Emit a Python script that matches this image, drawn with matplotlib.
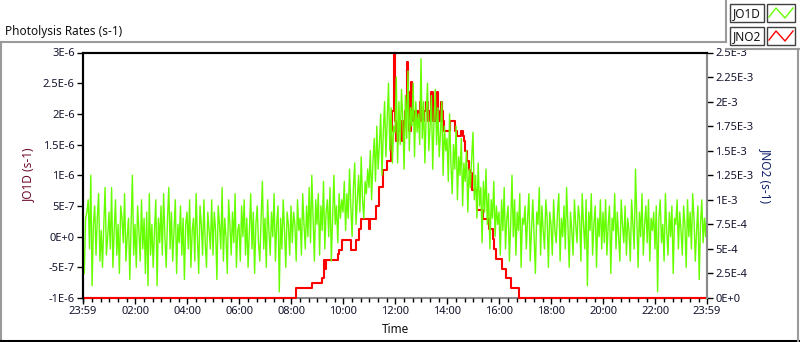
import numpy as np
import matplotlib
matplotlib.use("Agg")
import matplotlib.pyplot as plt
from matplotlib.lines import Line2D
from matplotlib.patches import Rectangle

plt.rcParams["font.family"] = ["Noto Sans", "DejaVu Sans"]

# sampling of both traces (minutes after 23:59)
SAMPLE_MIN = 3

# JO1D, units of 1e-7 s-1, one row per hour starting 23:59
jo1d = [
    -5, -6, 3, 4, 6, -2, 10, -8, 2, 5, -3, 3, 7, -4, 1, -5, 2, 8, -3, 0,
    4, -2, 8, -5, 1, 6, -3, 2, -6, 5, 3, -1, 7, -4, 0, 3, -7, 2, 10, -3,
    2, -5, 5, 1, -4, 6, -2, 3, -6, 4, -8, 7, -3, 2, -5, 1, 6, -8, 3, -1,
    5, -3, 7, 0, -5, 3, 8, -2, 4, -4, 1, 6, -6, 2, -1, 5, -3, 3, -7, 2,
    4, -2, 6, -5, 1, 3, -4, 7, 0, -6, 5, 2, -3, 6, -1, -5, 4, 1, -2, 6,
    -3, 4, 1, -7, 5, 2, -2, 8, -4, 3, 0, -6, 6, 2, -3, 4, -1, 7, -5, 1,
    2, -4, 5, 0, 6, -3, 3, -5, 1, 7, -2, 4, -6, 2, 5, -1, -4, 3, 9, -2,
    3, -5, 6, 1, -3, 4, 0, 7, -4, 2, 5, -9, 3, -2, 6, 1, -5, 4, 2, -3,
    5, -1, 4, 2, -4, 6, 1, 3, -3, 7, 2, -2, 5, 0, 8, -1, 10, 3, -4, 6,
    2, 7, -3, 5, 1, 9, -2, 4, 6, 0, 8, -4, 3, 10, 2, 5, -1, 7, 3, 6,
    4, 9, 1, 7, 3, 11, 5, 0, 8, 12, 2, 6, 10, 4, 13, 6, 3, 9, 7, 11,
    8, 14, 6, 12, 16, 9, 18, 11, 15, 20, 10, 17, 22, 13, 19, 25, 14, 21, 12, 18,
    17, 26, 12, 22, 15, 24, 19, 11, 23, 16, 27, 14, 21, 18, 25, 13, 22, 17, 20, 15,
    29, 16, 22, 12, 20, 25, 14, 18, 23, 11, 19, 24, 15, 21, 13, 17, 22, 10, 18, 14,
    16, 9, 20, 12, 7, 15, 11, 18, 6, 13, 10, 16, 5, 12, 9, 14, 4, 11, 8, 13,
    17, 6, 10, 3, 12, 5, 8, -1, 9, 4, 11, 2, 7, -2, 6, 3, 9, 0, 5, 2,
    4, -3, 6, 1, 8, -2, 3, 5, -4, 2, 10, 0, 6, -3, 4, 1, 7, -5, 3, 2,
    5, -2, 3, 7, -4, 1, 6, 0, -6, 4, 2, 8, -3, 5, 1, -2, 6, 3, -5, 4,
    2, -3, 6, 1, -1, 4, 7, -4, 3, 0, 5, -2, 8, 2, -5, 4, 1, -3, 6, 2,
    -1, 5, 3, -4, 7, 2, -2, 6, -8, 4, 1, 7, -3, 2, 5, -5, 3, 0, 6, -2,
    4, -1, 6, -3, 2, 5, -6, 3, 1, 7, -2, 4, 0, -4, 6, 2, -1, 5, -3, 3,
    1, -4, 6, 2, -2, 11, 3, -5, 4, 0, 7, -3, 2, 5, -1, 6, -4, 3, 1, 4,
    -2, 5, -9, 3, 6, -1, 2, -4, 7, 1, -3, 4, 0, 5, -6, 3, 2, 6, -2, 4,
    1, -3, 5, 2, -5, 6, 0, 4, -2, 7, 3, -4, 1, 5, -7, 2, 6, -1, 3, 0,
    5,
]

# JNO2, units of 1e-4 s-1 (stepped photometer output)
jno2 = (
    [0] * 164
    + [1.0] * 12 + [1.5] * 8 + [2.0] + [3.9, 3.0] + [3.9] * 9
    + [4.5, 4.9, 4.9] + [5.9] * 7 + [4.9] * 4 + [5.9] * 2 + [7.0] * 2
    + [8.0] * 6 + [7.0] + [8.0] * 4 + [9.4] * 3 + [11.3] * 3 + [13.0] * 3 + [14.0] * 3
    + [17, 19, 25, 18, 16, 17, 17, 18, 16, 17, 18]
    + [19, 24, 21, 17, 22, 19]
    + [18, 19, 18, 19, 18, 20, 19, 18, 19, 19, 20, 18, 19]
    + [19, 21, 18, 20, 18, 21, 19, 18, 20, 19, 18]
    + [17] * 4 + [18] * 4 + [17, 17, 16.5, 16.5, 16.5, 17, 16.5, 16]
    + [15, 14, 14, 13, 12.7, 11, 11, 11, 11]
    + [9] * 5 + [8] * 4 + [7] * 3 + [6] + [5] * 2 + [4] * 4 + [3] * 3 + [2] * 4 + [1] * 6
)
jno2 = jno2 + [0] * (len(jo1d) - len(jno2))

x_tick_pos = [0, 121, 241, 361, 481, 601, 721, 841, 961, 1081, 1201, 1321, 1440]
x_tick_labels = ["23:59", "02:00", "04:00", "06:00", "08:00", "10:00", "12:00",
                 "14:00", "16:00", "18:00", "20:00", "22:00", "23:59"]
left_ticks = [3e-6, 2.5e-6, 2e-6, 1.5e-6, 1e-6, 5e-7, 0, -5e-7, -1e-6]
left_labels = ["3E-6", "2.5E-6", "2E-6", "1.5E-6", "1E-6", "5E-7", "0E+0", "-5E-7", "-1E-6"]
right_ticks = [2.5e-3, 2.25e-3, 2e-3, 1.75e-3, 1.5e-3, 1.25e-3, 1e-3, 7.5e-4, 5e-4, 2.5e-4, 0]
right_labels = ["2.5E-3", "2.25E-3", "2E-3", "1.75E-3", "1.5E-3", "1.25E-3", "1E-3",
                "7.5E-4", "5E-4", "2.5E-4", "0E+0"]

GREEN = "#66ff00"
RED = "#ff0000"
TICK_COLOR = "#14142e"
W, H = 800, 342


def px(x, y):
    """pixel (from top-left) -> figure fraction"""
    return x / W, 1 - y / H


fig = plt.figure(figsize=(W / 100, H / 100), dpi=100)
fig.patch.set_facecolor("white")
ax = fig.add_axes([83 / W, 44 / H, 624 / W, 245.5 / H])
ax2 = ax.twinx()
# green trace sits over the red one
ax.set_zorder(ax2.get_zorder() + 1)
ax.patch.set_visible(False)
ax2.patch.set_facecolor("white")

t = np.arange(len(jo1d)) * SAMPLE_MIN
ax.plot(t, np.array(jo1d) * 1e-7, color=GREEN, linewidth=1.0, zorder=2)
ax2.plot(t, np.array(jno2) * 1e-4, color=RED, linewidth=1.5, drawstyle="steps-post",
         clip_on=False, zorder=3)

ax.set_xlim(0, 1440)
ax.set_ylim(-1e-6, 3e-6)
ax2.set_ylim(0, 2.5e-3)

ax.set_xticks(x_tick_pos)
ax.set_xticklabels(x_tick_labels)
ax.set_xticks([1 + 20 * k for k in range(72)], minor=True)
ax.set_yticks(left_ticks)
ax.set_yticklabels(left_labels)
ax2.set_yticks(right_ticks)
ax2.set_yticklabels(right_labels)

for a in (ax, ax2):
    a.tick_params(axis="both", which="major", direction="out", length=4, width=1,
                  color="black", labelcolor=TICK_COLOR, labelsize=8, pad=2)
    a.tick_params(axis="x", which="minor", direction="out", length=3, width=1, color="black")
    for side, spine in a.spines.items():
        spine.set_linewidth(1.5)
        spine.set_color("black" if side in ("left", "top") else "#8a8a8a")
ax.spines["bottom"].set_visible(False)

ax.set_xlabel("Time", fontsize=8.5, color="#111111", labelpad=4)
ax.set_ylabel("JO1D (s-1)", fontsize=8.5, color="#6e0a2e", labelpad=6)
ax2.set_ylabel("JNO2 (s-1)", fontsize=8.5, color="#10206a", rotation=270, labelpad=14)

fig.text(5 / W, 1 - 31 / H, "Photolysis Rates (s-1)", fontsize=8.5, color="#111111",
         va="center", ha="left")

# outer frame of the graph panel
frame_kw = dict(transform=fig.transFigure, color="#9a9a9a", linewidth=1.5)
fig.add_artist(Line2D([0, 726 / W], [px(0, 42)[1]] * 2, **frame_kw))
fig.add_artist(Line2D([0.001, 0.001], [px(0, 42)[1], 0], **frame_kw))
fig.add_artist(Line2D([0, 1], [0.002, 0.002], transform=fig.transFigure, color="black", linewidth=1.5))
fig.add_artist(Line2D([798 / W, 798 / W], [px(0, 49)[1], 0], **frame_kw))
fig.add_artist(Line2D([726 / W, 726 / W], [1, px(0, 42)[1]], **frame_kw))
fig.add_artist(Line2D([726 / W, 799 / W], [px(0, 49)[1]] * 2, **frame_kw))

# plot legend
for row, (name, col) in enumerate([("JO1D", GREEN), ("JNO2", RED)]):
    y0 = 4 + row * 23
    x0, y1 = px(730, y0 + 18)
    fig.add_artist(Rectangle((x0, y1), 34 / W, 18 / H, transform=fig.transFigure,
                             facecolor="white", edgecolor="#404040", linewidth=1))
    fig.text(747 / W, 1 - (y0 + 9.5) / H, name, fontsize=8.5, color="#111111",
             ha="center", va="center")
    sx, sy = px(767, y0 + 18)
    fig.add_artist(Rectangle((sx, sy), 28 / W, 18 / H, transform=fig.transFigure,
                             facecolor="white", edgecolor="#404040", linewidth=1))
    zig_x = [769, 776, 785, 793]
    zig_y = [y0 + 13, y0 + 4, y0 + 14, y0 + 4]
    fig.add_artist(Line2D([v / W for v in zig_x], [1 - v / H for v in zig_y],
                          transform=fig.transFigure, color=col, linewidth=1))

fig.savefig("out.png", dpi=100)
